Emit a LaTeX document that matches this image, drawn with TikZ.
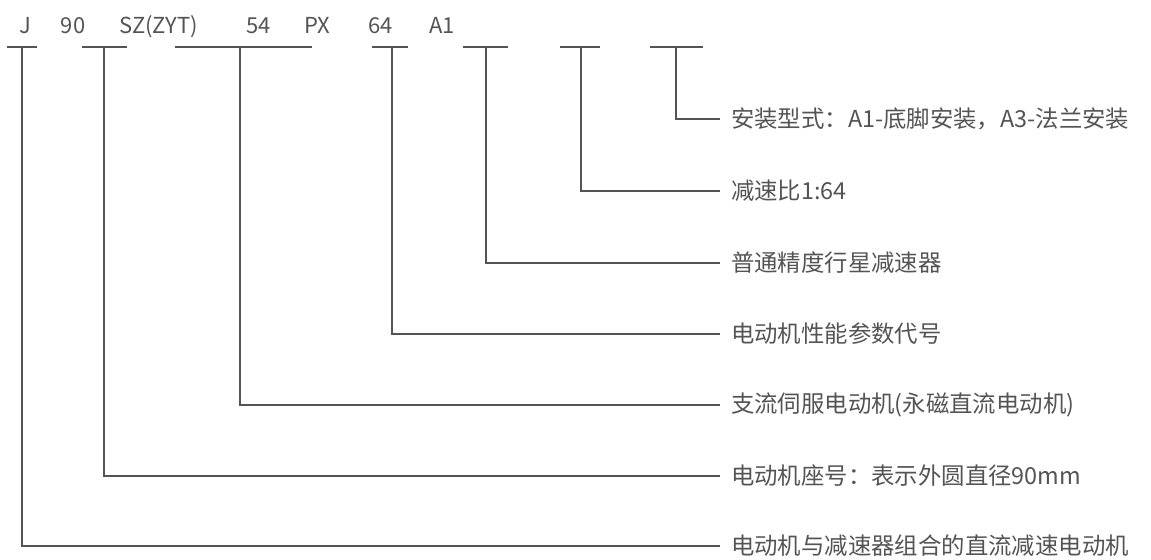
\documentclass[tikz,border=0pt]{standalone}
\usepackage{fontspec}
\usepackage[dvipsnames]{xcolor}
\newfontfamily\cjk{Noto Sans CJK SC}
\definecolor{inkgray}{gray}{0.33}

\begin{document}
\begin{tikzpicture}[x=0.5pt,y=-0.5pt,line width=1pt,draw=inkgray,
    code node/.style={anchor=base west,inner sep=0pt,text=inkgray,font=\cjk\fontsize{11pt}{13pt}\selectfont},
    desc node/.style={anchor=west,inner xsep=5pt,inner ysep=0pt,text=inkgray,font=\cjk\fontsize{11.7pt}{14pt}\selectfont}]
            \useasboundingbox (0,0) rectangle (1151,559);

            % model code along the top
            \node[code node] (c1) at (18,33) {J};
            \node[code node] (c2) at (60,33) {90};
            \node[code node] (c3) at (118,33) {SZ(ZYT)};
            \node[code node] (c4) at (245,33) {54};
            \node[code node] (c5) at (303,33) {PX};
            \node[code node] (c6) at (367,33) {64};
            \node[code node] (c7) at (428,33) {A1};

            % explanations on the right
            \node[desc node] (d7) at (720,119) {安装型式：A1-底脚安装，A3-法兰安装};
            \node[desc node] (d6) at (720,191) {减速比1:64};
            \node[desc node] (d5) at (720,263) {普通精度行星减速器};
            \node[desc node] (d4) at (720,334) {电动机性能参数代号};
            \node[desc node] (d3) at (720,405) {支流伺服电动机(永磁直流电动机)};
            \node[desc node] (d2) at (720,476) {电动机座号：表示外圆直径90mm};
            \node[desc node] (d1) at (720,546) {电动机与减速器组合的直流减速电动机};

            % T bars under the code
            \foreach \n/\l/\s/\r in {1/7/22/37,2/82/104/127,3/175/240/312,4/372/392/408,
                                     5/463/486/508,6/560/581/600,7/650/676/703}{
                \coordinate (t\n) at (\s,47);
                \draw (\l,47) -- (\r,47);
            }

            \foreach \n in {1,...,7}
                \draw (t\n) |- (d\n.west);
        \end{tikzpicture}
\end{document}
